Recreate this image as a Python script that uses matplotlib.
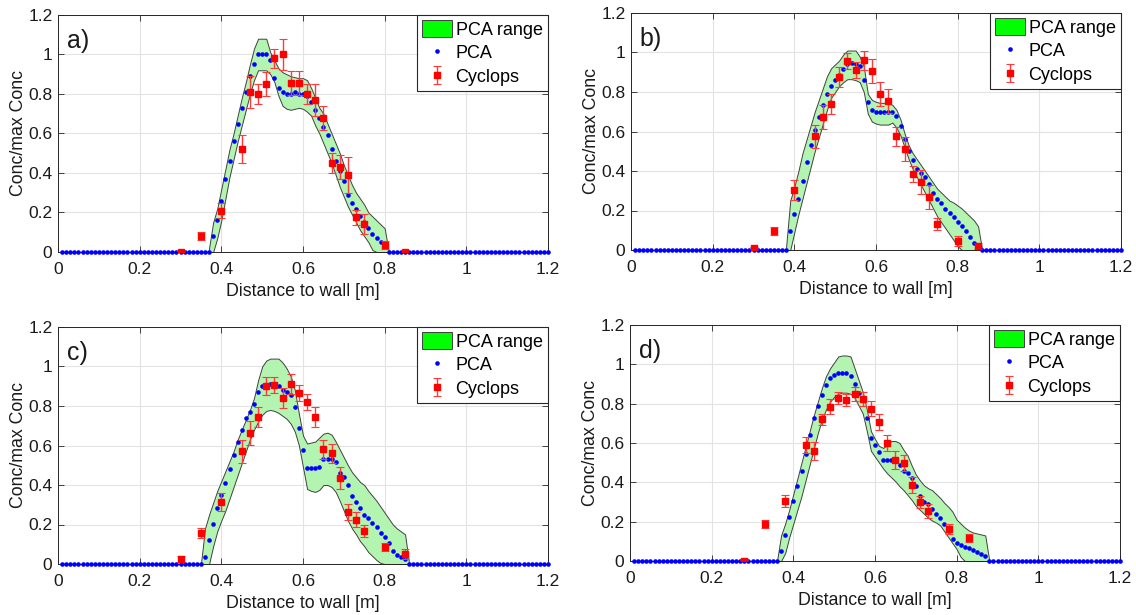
"""Four-panel comparison of PCA concentration profiles against Cyclops readings."""

import matplotlib
matplotlib.use("Agg")
import matplotlib.pyplot as plt
import numpy as np
from matplotlib.lines import Line2D
from matplotlib.patches import Patch
from matplotlib.ticker import FormatStrFormatter, MultipleLocator

plt.rcParams["font.family"] = ["Liberation Sans", "DejaVu Sans"]


# PCA profiles are sampled every 1 cm from 0.01 m to 1.20 m. Only the
# non-zero window is listed; it starts at PCA_START and is zero elsewhere.
GRID_X = np.round(np.arange(1, 121) * 0.01, 2)

PANEL_LABELS = ["a)", "b)", "c)", "d)"]
PCA_START = [0.37, 0.38, 0.35, 0.36]

PCA_A = [0, .08, .16, .26, .37, .46, .56, .65, .73, .81, .89, .95, 1.0, 1.0,
         1.0, .97, .88, .83, .81, .80, .80, .81, .80, .80, .79, .76, .72, .68,
         .635, .59, .52, .46, .41, .36, .29, .25, .22, .18, .15, .12, .09, .07,
         .05, .03, 0]
UPPER_A = [.02, .15, .22, .32, .42, .52, .60, .69, .78, .86, .95, 1.03, 1.08,
           1.08, 1.08, 1.01, .97, .93, .91, .90, .89, .885, .88, .88, .87, .83,
           .78, .73, .70, .65, .60, .55, .50, .44, .39, .34, .30, .27, .24, .20,
           .18, .16, .14, .12, 0]
LOWER_A = [0, 0, .07, .16, .27, .38, .47, .56, .64, .72, .80, .87, .92, .92,
           .92, .90, .86, .79, .74, .725, .72, .725, .73, .725, .71, .69, .64,
           .60, .55, .50, .45, .39, .33, .28, .23, .19, .15, .11, .08, .05, .01,
           0, 0, 0, 0]

PCA_B = [0, .095, .18, .26, .35, .445, .53, .61, .675, .735, .79, .83, .86,
         .885, .915, .94, .945, .94, .93, .86, .75, .71, .70, .70, .70, .70,
         .70, .68, .63, .56, .50, .455, .41, .39, .37, .335, .29, .26, .24, .21,
         .185, .165, .14, .12, .095, .065, .035, .025, 0]
UPPER_B = [.02, .25, .32, .40, .49, .56, .63, .70, .76, .82, .88, .92, .94,
           .96, .99, 1.01, 1.01, 1.01, .98, .93, .79, .76, .75, .745, .745,
           .745, .735, .71, .66, .59, .53, .49, .46, .43, .40, .37, .34, .31,
           .29, .27, .25, .24, .225, .21, .19, .17, .15, .12, 0]
LOWER_B = [0, 0, .09, .18, .26, .34, .42, .50, .57, .64, .71, .77, .80, .83,
           .85, .865, .865, .86, .85, .80, .69, .65, .64, .635, .635, .635,
           .645, .62, .58, .52, .46, .41, .37, .33, .29, .25, .21, .17, .14,
           .11, .08, .05, .02, 0, 0, 0, 0, 0, 0]

PCA_C = [0, .035, .12, .205, .285, .35, .41, .48, .55, .62, .68, .74, .77, .81,
         .87, .90, .905, .91, .905, .90, .88, .87, .855, .795, .69, .575, .485,
         .485, .485, .49, .53, .53, .53, .515, .46, .44, .40, .345, .315, .285,
         .25, .235, .21, .185, .155, .135, .105, .065, .045, .035, .025, 0]
UPPER_C = [0, .18, .25, .31, .37, .42, .47, .52, .57, .63, .68, .73, .78, .84,
           .93, 1.0, 1.03, 1.04, 1.04, 1.04, 1.02, .99, .95, .88, .76, .65, .61,
           .615, .62, .64, .66, .665, .655, .62, .58, .54, .50, .465, .44, .415,
           .40, .37, .345, .32, .29, .26, .23, .20, .18, .165, .15, 0]
LOWER_C = [0, 0, 0, .09, .165, .22, .27, .33, .39, .45, .51, .57, .63, .68,
           .72, .755, .775, .78, .775, .765, .75, .735, .71, .67, .60, .49, .38,
           .37, .365, .375, .40, .40, .39, .365, .32, .27, .22, .18, .15, .115,
           .09, .06, .04, .02, .005, 0, 0, 0, 0, 0, 0, 0]

PCA_D = [0, .05, .13, .225, .305, .38, .46, .545, .64, .725, .79, .845, .895,
         .93, .945, .955, .955, .955, .94, .90, .855, .82, .725, .625, .59,
         .555, .515, .515, .515, .515, .49, .46, .445, .42, .38, .33, .30, .29,
         .265, .24, .22, .19, .155, .11, .09, .08, .07, .065, .055, .045, .035,
         .025, 0]
UPPER_D = [0, .13, .19, .26, .34, .42, .50, .58, .66, .74, .81, .88, .94, .98,
           1.01, 1.04, 1.045, 1.045, 1.04, .98, .92, .86, .77, .66, .62, .585,
           .575, .59, .61, .61, .60, .565, .535, .485, .44, .41, .385, .37, .36,
           .34, .32, .295, .275, .25, .21, .19, .17, .155, .145, .14, .135, .13,
           0]
LOWER_D = [0, 0, .04, .12, .19, .26, .33, .41, .49, .57, .65, .72, .77, .81,
           .835, .85, .856, .856, .85, .83, .79, .75, .66, .56, .53, .50, .47,
           .445, .425, .405, .38, .36, .335, .31, .28, .26, .24, .22, .205, .195,
           .18, .15, .12, .09, .06, .02, 0, 0, 0, 0, 0, 0, 0]

CYCLOPS_X_ABC = [0.30, 0.35, 0.40, 0.45, 0.47, 0.49, 0.51, 0.53, 0.55, 0.57,
                 0.59, 0.61, 0.63, 0.65, 0.67, 0.69, 0.71, 0.73, 0.75, 0.80,
                 0.85]
CYCLOPS_X_D = [0.28, 0.33, 0.38, 0.43, 0.45, 0.47, 0.49, 0.51, 0.53, 0.55,
               0.57, 0.59, 0.61, 0.63, 0.65, 0.67, 0.69, 0.71, 0.73, 0.78,
               0.83]

CYCLOPS_A = [0.0, 0.08, 0.21, 0.52, 0.81, 0.80, 0.85, 0.98, 1.0, 0.855, 0.855,
             0.80, 0.77, 0.68, 0.45, 0.43, 0.39, 0.175, 0.14, 0.035, 0.0]
CYCLOPS_ERR_A = [0.005, 0.02, 0.04, 0.07, 0.08, 0.05, 0.06, 0.05, 0.08, 0.06,
                 0.06, 0.05, 0.08, 0.06, 0.05, 0.06, 0.09, 0.04, 0.05, 0.02,
                 0.01]
CYCLOPS_B = [0.01, 0.095, 0.305, 0.575, 0.675, 0.74, 0.875, 0.955, 0.91, 0.96,
             0.905, 0.79, 0.755, 0.575, 0.51, 0.385, 0.345, 0.27, 0.13, 0.045,
             0.02]
CYCLOPS_ERR_B = [0.005, 0.02, 0.05, 0.06, 0.06, 0.05, 0.05, 0.04, 0.04, 0.05,
                 0.06, 0.06, 0.06, 0.05, 0.06, 0.04, 0.06, 0.06, 0.03, 0.025,
                 0.015]
CYCLOPS_C = [0.025, 0.155, 0.315, 0.57, 0.665, 0.745, 0.90, 0.905, 0.84, 0.91,
             0.865, 0.82, 0.745, 0.58, 0.56, 0.435, 0.265, 0.225, 0.165, 0.085,
             0.05]
CYCLOPS_ERR_C = [0.015, 0.025, 0.045, 0.06, 0.06, 0.05, 0.045, 0.04, 0.05,
                 0.05, 0.04, 0.04, 0.05, 0.05, 0.05, 0.055, 0.04, 0.04, 0.03,
                 0.02, 0.025]
CYCLOPS_D = [0.0, 0.19, 0.305, 0.59, 0.56, 0.72, 0.785, 0.83, 0.82, 0.85,
             0.825, 0.775, 0.707, 0.60, 0.515, 0.50, 0.385, 0.30, 0.255, 0.162,
             0.118]
CYCLOPS_ERR_D = [0.005, 0.02, 0.03, 0.04, 0.045, 0.03, 0.04, 0.03, 0.03,
                 0.035, 0.035, 0.04, 0.04, 0.04, 0.045, 0.04, 0.04, 0.03, 0.035,
                 0.025, 0.02]

# axes boxes in figure pixels: left, top, right, bottom
AXES_PX = [(58, 15, 548, 252), (631, 13, 1121, 250),
           (58, 327, 548, 564), (630, 325, 1120, 561)]

FIG_W, FIG_H = 1136, 615
AXIS_COLOR = "#262626"
TEXT_COLOR = "#1a1a1a"


def draw_panel(axis, label, start, pca, upper, lower, cyc_x, cyc_y, cyc_err):
    first = int(round(start * 100)) - 1
    window = GRID_X[first:first + len(pca)]
    profile = np.zeros_like(GRID_X)
    profile[first:first + len(pca)] = pca

    axis.fill_between(window, lower, upper, facecolor="#b3f5b0",
                      edgecolor="#404040", linewidth=0.7, zorder=2)
    axis.plot(GRID_X, profile, ls="none", marker="o", ms=3.3, color="#0000ff",
              mec="none", zorder=3, clip_on=False)
    cyclops = axis.errorbar(cyc_x, cyc_y, yerr=cyc_err, fmt="s", ms=5,
                            color="#ff0000", mec="#ff0000", ecolor="#ff3a3a",
                            elinewidth=1.0, capsize=3, capthick=0.8, zorder=4)

    axis.set_xlim(0, 1.2)
    axis.set_ylim(0, 1.2)
    axis.xaxis.set_major_locator(MultipleLocator(0.2))
    axis.yaxis.set_major_locator(MultipleLocator(0.2))
    axis.xaxis.set_major_formatter(FormatStrFormatter("%g"))
    axis.yaxis.set_major_formatter(FormatStrFormatter("%g"))
    axis.grid(True, color="#e3e3e3", linewidth=0.8)
    axis.set_axisbelow(True)
    axis.tick_params(direction="in", top=True, right=True, length=4,
                     width=0.6, color=AXIS_COLOR, labelsize=12.5,
                     labelcolor=TEXT_COLOR)
    axis.tick_params(axis="x", pad=7)
    axis.tick_params(axis="y", pad=4)
    for spine in axis.spines.values():
        spine.set_color(AXIS_COLOR)
        spine.set_linewidth(0.7)
    axis.set_xlabel("Distance to wall [m]", fontsize=12.8, labelpad=4.5,
                    color=TEXT_COLOR)
    axis.set_ylabel("Conc/max Conc", fontsize=12.8, labelpad=1,
                    color=TEXT_COLOR)
    axis.text(0.018, 0.89, label, transform=axis.transAxes, fontsize=18,
              va="center", ha="left", color=TEXT_COLOR)

    handles = [
        Patch(facecolor="#00ff00", edgecolor="#404040", linewidth=0.7),
        Line2D([], [], ls="none", marker="o", ms=3.3, color="#0000ff",
               mec="none"),
        cyclops,
    ]
    legend = axis.legend(handles, ["PCA range", "PCA", "Cyclops"],
                         loc="upper right", borderaxespad=0, fancybox=False,
                         framealpha=1, edgecolor=AXIS_COLOR, fontsize=13,
                         handlelength=1.65, handleheight=1.0,
                         handletextpad=0.2, borderpad=0.3, labelspacing=0.3)
    legend.get_frame().set_linewidth(0.8)


def main():
    figure = plt.figure(figsize=(FIG_W / 100, FIG_H / 100), dpi=100)
    figure.patch.set_facecolor("white")
    panels = [
        (PCA_A, UPPER_A, LOWER_A, CYCLOPS_X_ABC, CYCLOPS_A, CYCLOPS_ERR_A),
        (PCA_B, UPPER_B, LOWER_B, CYCLOPS_X_ABC, CYCLOPS_B, CYCLOPS_ERR_B),
        (PCA_C, UPPER_C, LOWER_C, CYCLOPS_X_ABC, CYCLOPS_C, CYCLOPS_ERR_C),
        (PCA_D, UPPER_D, LOWER_D, CYCLOPS_X_D, CYCLOPS_D, CYCLOPS_ERR_D),
    ]
    for index, (box, data) in enumerate(zip(AXES_PX, panels)):
        left, top, right, bottom = box
        axis = figure.add_axes([left / FIG_W, 1 - bottom / FIG_H,
                                (right - left) / FIG_W,
                                (bottom - top) / FIG_H])
        draw_panel(axis, PANEL_LABELS[index], PCA_START[index], *data)
    figure.savefig("out.png", dpi=100, facecolor="white")
    plt.close(figure)


if __name__ == "__main__":
    main()
